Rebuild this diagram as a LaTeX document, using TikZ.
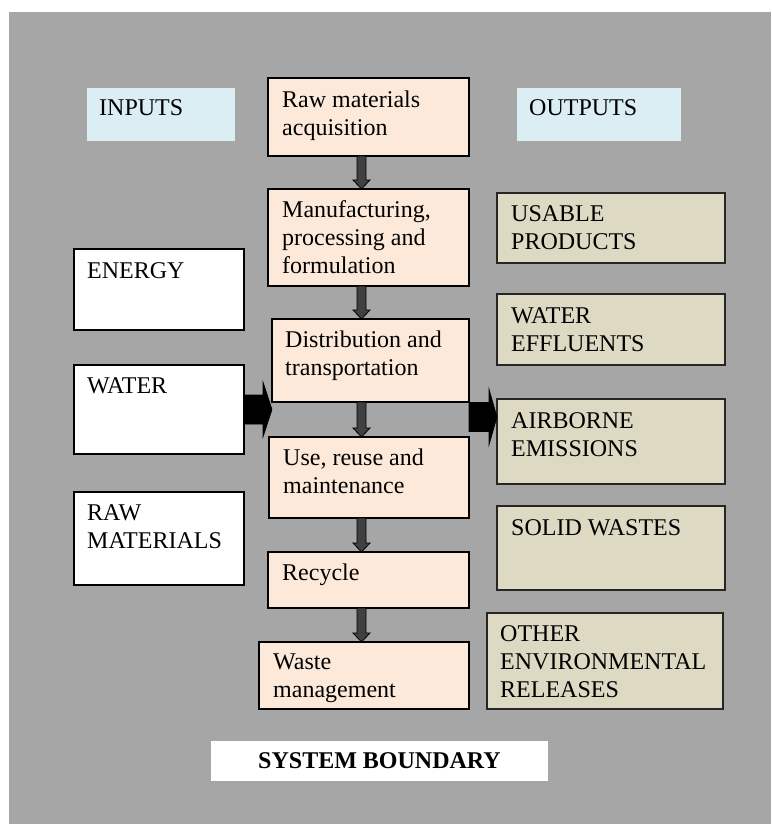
\documentclass[tikz,border=0pt]{standalone}
\usepackage{fontspec}
\setmainfont{Liberation Serif}
\usetikzlibrary{calc}
\definecolor{bggray}{HTML}{A6A6A6}
\definecolor{peach}{HTML}{FDE9D9}
\definecolor{tan}{HTML}{DDD9C3}
\definecolor{lblue}{HTML}{DAEEF3}
\definecolor{darkarrow}{HTML}{404040}
\newcommand\tx[4]{\node[txt] (#1) at (#2,#3-20) {\rule{0pt}{20pt}#4};}
\newcommand\darr[2]{%
  \coordinate (t) at (ax |- #1.south);
  \coordinate (b) at (ax |- #2.north);
  \draw[darrowstyle] ($(t)+(-4.5,0)$) -- ($(b)+(-4.5,-9)$) -- ($(b)+(-8.5,-9)$) -- (b)
    -- ($(b)+(8.5,-9)$) -- ($(b)+(4.5,-9)$) -- ($(t)+(4.5,0)$) -- cycle;}
\begin{document}
\begin{tikzpicture}[x=1pt,y=-1pt,
  base/.style={inner sep=0pt, outer sep=0pt, anchor=north west},
  peachbox/.style={base, draw=black, line width=1.6pt, fill=peach},
  tanbox/.style={base, draw=black!85, line width=1.4pt, fill=tan},
  whitebox/.style={base, draw=black, line width=1.4pt, fill=white},
  labelbox/.style={base, fill=lblue},
  txt/.style={inner sep=0pt, anchor=north west, align=left, font=\fontsize{24}{28}\selectfont},
  darrowstyle/.style={fill=darkarrow, draw=black, line width=0.8pt},
  barrow/.style={fill=black, draw=black, line width=0.6pt}]
\useasboundingbox (0,0) rectangle (771,824);
\fill[bggray] (9,12) rectangle (771,824);
% label boxes
\node[labelbox, minimum width=148pt, minimum height=53pt] (inputs) at (87,88) {};
\node[labelbox, minimum width=164pt, minimum height=53pt] (outputs) at (517,88) {};
% process chain
\node[peachbox, minimum width=201pt, minimum height=78pt] (raw) at (268,78) {};
\node[peachbox, minimum width=201pt, minimum height=97pt] (manu) at (268,189) {};
\node[peachbox, minimum width=197pt, minimum height=83pt] (dist) at (272,319) {};
\node[peachbox, minimum width=200pt, minimum height=81pt] (use) at (269,437) {};
\node[peachbox, minimum width=201pt, minimum height=56pt] (recyc) at (268,552) {};
\node[peachbox, minimum width=210pt, minimum height=67pt] (waste) at (259,642) {};
% inputs
\node[whitebox, minimum width=170pt, minimum height=81pt] (energy) at (74,249) {};
\node[whitebox, minimum width=170pt, minimum height=89pt] (waterin) at (74,365) {};
\node[whitebox, minimum width=170pt, minimum height=93pt] (rawmat) at (74,492) {};
% outputs
\node[tanbox, minimum width=228pt, minimum height=70pt] (usable) at (497,193) {};
\node[tanbox, minimum width=228pt, minimum height=71pt] (effl) at (497,294) {};
\node[tanbox, minimum width=228pt, minimum height=85pt] (air) at (497,399) {};
\node[tanbox, minimum width=228pt, minimum height=84pt] (solid) at (497,506) {};
\node[tanbox, minimum width=236pt, minimum height=96pt] (other) at (487,613) {};
% system boundary
\node[base, fill=white, minimum width=337pt, minimum height=40pt] (sysb) at (211,741) {};
\node[inner sep=0pt, anchor=base, font=\fontsize{24}{28}\selectfont\bfseries] (sysbt) at (379.5,768) {SYSTEM BOUNDARY};
% texts
\tx{inputst}{99}{115}{INPUTS}
\tx{outputst}{529}{115}{OUTPUTS}
\tx{rawt}{282}{107}{Raw materials\\acquisition}
\tx{manut}{282}{217}{Manufacturing,\\processing and\\formulation}
\tx{distt}{285}{347}{Distribution and\\transportation}
\tx{uset}{283}{465}{Use, reuse and\\maintenance}
\tx{recyct}{282}{580}{Recycle}
\tx{wastet}{273}{669}{Waste\\management}
\tx{energyt}{87}{278}{ENERGY}
\tx{watert}{87}{393}{WATER}
\tx{rawmatt}{87}{520}{RAW\\MATERIALS}
\tx{usablet}{511}{221}{USABLE\\PRODUCTS}
\tx{efflt}{511}{323}{WATER\\EFFLUENTS}
\tx{airt}{511}{428}{AIRBORNE\\EMISSIONS}
\tx{solidt}{511}{535}{SOLID WASTES}
\tx{othert}{500}{641}{OTHER\\ENVIRONMENTAL\\RELEASES}
% down arrows
\coordinate (ax) at (361.5,0);
\darr{raw}{manu}
\darr{manu}{dist}
\darr{dist}{use}
\darr{use}{recyc}
\darr{recyc}{waste}
% input arrow
\coordinate (ws) at (waterin.east);
\coordinate (wt) at (dist.west |- waterin.east);
\draw[barrow] ($(ws)+(0,-14.5)$) -- ($(wt)+(-9,-14.5)$) -- ($(wt)+(-9,-27.5)$) -- (wt)
  -- ($(wt)+(-9,27.5)$) -- ($(wt)+(-9,14.5)$) -- ($(ws)+(0,14.5)$) -- cycle;
% output arrow
\coordinate (ry) at (0,417);
\coordinate (rs) at (dist.east |- ry);
\coordinate (rt) at (air.west |- ry);
\draw[barrow] ($(rs)+(0,-14.5)$) -- ($(rt)+(-8,-14.5)$) -- ($(rt)+(-8,-28)$) -- (rt)
  -- ($(rt)+(-8,28)$) -- ($(rt)+(-8,14.5)$) -- ($(rs)+(0,14.5)$) -- cycle;
\end{tikzpicture}
\end{document}
